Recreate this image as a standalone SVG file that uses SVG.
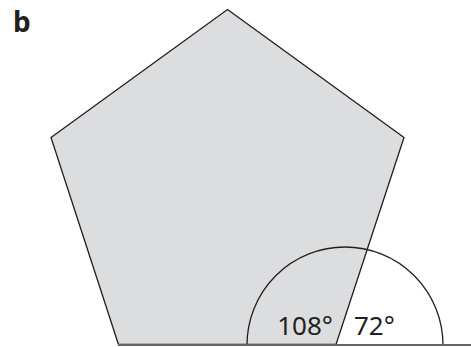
<svg xmlns="http://www.w3.org/2000/svg" width="471" height="347" viewBox="0 0 471 347">
<style>
.lbl{font-family:"Noto Sans","Open Sans",sans-serif;font-size:26px;fill:#231f20}
.line{fill:none;stroke:#231f20;stroke-width:1.3}
</style>
<rect width="471" height="347" fill="#fff"/>
<text x="13" y="32" style="font-family:'Noto Sans',sans-serif;font-weight:bold;font-size:28px;fill:#231f20">b</text>
<g id="pentagon">
<polygon points="227.5,9.5 404,137.5 336,344.5 118.5,344.5 51,137.5" fill="#dcdddf" stroke="#231f20" stroke-width="1.3" stroke-linejoin="miter"/>
</g>
<g id="connectors">
<path class="line" d="M247 345 A98 98 0 0 1 443 345"/>
<line x1="118" y1="345" x2="471" y2="345" stroke="#666" stroke-width="2"/>
</g>
<g id="labels">
<text class="lbl" x="333" y="335" text-anchor="end">108°</text>
<text class="lbl" x="354" y="335">72°</text>
</g>
</svg>
